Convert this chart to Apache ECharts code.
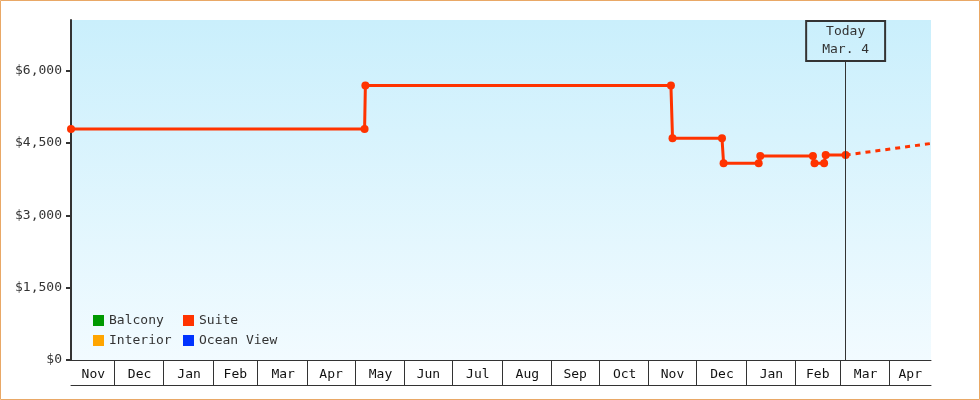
<!DOCTYPE html>
<html>
<head>
<meta charset="utf-8">
<script src="https://cdn.jsdelivr.net/npm/echarts@6/dist/echarts.min.js"></script>
<style>
html,body{margin:0;padding:0;background:#fff;}
#chart{width:980px;height:400px;}
</style>
</head>
<body>
<div id="chart"></div>
<script>
// ---- data ----
const axisStart = '2016-11-04';
const axisEnd = '2018-04-27';
const monthNames = ['Jan','Feb','Mar','Apr','May','Jun','Jul','Aug','Sep','Oct','Nov','Dec'];
const yTicks = [0, 1500, 3000, 4500, 6000];
const yMax = 7050;
const legendCol1 = ['Balcony', 'Interior'];
const legendCol2 = ['Suite', 'Ocean View'];
const suiteDates = ['2016-11-04','2017-05-07','2017-05-07 12:00','2017-11-15','2017-11-16','2017-12-17','2017-12-18','2018-01-09','2018-01-10','2018-02-12','2018-02-13','2018-02-19','2018-02-20','2018-03-04 12:00'];
const suitePrices = [4790, 4790, 5690, 5690, 4600, 4600, 4080, 4080, 4230, 4230, 4080, 4080, 4250, 4250];
const projectionDates = ['2018-03-04 12:00', '2018-04-27'];
const projectionPrices = [4250, 4490];
const todayDate = '2018-03-04 12:00';
const todayLabel = 'Today\nMar. 4';
const todayLineTop = 6200;

const FONT = 'DejaVu Sans Mono';
function ts(s) {
  const [d, t] = s.split(' ');
  const [y, m, dd] = d.split('-').map(Number);
  let hh = 0, mm = 0;
  if (t) { [hh, mm] = t.split(':').map(Number); }
  return new Date(y, m - 1, dd, hh, mm).getTime();
}
const tMin = ts(axisStart), tMax = ts(axisEnd);

// day categories used for the month boxes under the plot
const dayCats = [];
const monthStartIdx = new Set();
{
  let d = new Date(tMin);
  const end = new Date(tMax);
  while (d <= end) {
    if (d.getDate() === 1) monthStartIdx.add(dayCats.length);
    dayCats.push(d.getFullYear() + '-' + (d.getMonth() + 1) + '-' + d.getDate());
    d = new Date(d.getFullYear(), d.getMonth(), d.getDate() + 1);
  }
}
const boundIdx = [0].concat(Array.from(monthStartIdx), [dayCats.length - 1]);
const midIdx = new Map();
for (let i = 0; i < boundIdx.length - 1; i++) {
  const m = Math.round((boundIdx[i] + boundIdx[i + 1]) / 2);
  midIdx.set(m, monthNames[new Date(ts(dayCats[boundIdx[i]])).getMonth()]);
}

const chart = echarts.init(document.getElementById('chart'), null, {renderer: 'canvas'});
const legendBase = {
  orient: 'vertical', itemGap: 7, padding: 0, icon: 'rect', itemWidth: 11, itemHeight: 11,
  textStyle: {fontSize: 13, color: '#333', fontFamily: FONT}
};
const option = {
  animation: false,
  backgroundColor: '#fff',
  textStyle: {fontFamily: FONT},
  graphic: [{
    type: 'rect', silent: true, z: 100,
    shape: {x: 0.5, y: 0.5, width: 979, height: 399},
    style: {fill: null, stroke: '#e9a866', lineWidth: 1}
  }],
  grid: {
    left: 71, top: 20, right: 49, bottom: 40, show: true, borderWidth: 0,
    backgroundColor: {type: 'linear', x: 0, y: 0, x2: 0, y2: 1,
      colorStops: [{offset: 0, color: '#caeffc'}, {offset: 1, color: '#f2fbff'}]}
  },
  legend: [
    Object.assign({data: legendCol1, left: 93, top: 314}, legendBase),
    Object.assign({data: legendCol2, left: 183, top: 314}, legendBase)
  ],
  xAxis: [{
    type: 'time', min: tMin, max: tMax, position: 'bottom', show: false
  }, {
    type: 'category', data: dayCats, boundaryGap: false, position: 'bottom',
    axisLine: {show: true, lineStyle: {color: '#333', width: 1}},
    axisTick: {show: true, interval: (i) => monthStartIdx.has(i), length: 25, inside: false,
      lineStyle: {color: '#333', width: 1}},
    axisLabel: {
      interval: (i) => midIdx.has(i), margin: 8, fontSize: 13, color: '#111', fontFamily: FONT,
      formatter: (v, i) => midIdx.get(i) || ''
    },
    splitLine: {show: false}
  }, {
    type: 'category', data: dayCats, boundaryGap: false, position: 'bottom', offset: 25,
    axisLine: {show: true, lineStyle: {color: '#333', width: 1}},
    axisTick: {show: false}, axisLabel: {show: false}, splitLine: {show: false}
  }],
  yAxis: {
    type: 'value', min: 0, max: yMax,
    axisLine: {show: true, lineStyle: {color: '#333', width: 2}},
    axisTick: {show: true, customValues: yTicks, length: 5, lineStyle: {color: '#333', width: 2}},
    axisLabel: {
      customValues: yTicks, margin: 9, fontSize: 13, color: '#333', fontFamily: FONT,
      formatter: v => '$' + Number(v).toLocaleString('en-US')
    },
    splitLine: {show: false}
  },
  series: [
    {name: 'Balcony', type: 'line', data: [], itemStyle: {color: '#009900'}, lineStyle: {color: '#009900'}},
    {
      name: 'Suite', type: 'line', clip: false, xAxisIndex: 0,
      data: suiteDates.map((d, i) => [ts(d), suitePrices[i]]),
      symbol: 'circle', symbolSize: 8, showAllSymbol: true,
      itemStyle: {color: '#ff3300'}, lineStyle: {color: '#ff3300', width: 3},
      emphasis: {disabled: true}, z: 3,
      markLine: {
        silent: true, symbol: ['none', 'none'], animation: false,
        lineStyle: {color: '#333', width: 1, type: 'solid'},
        emphasis: {disabled: true},
        label: {
          show: true, position: 'end', distance: 0, formatter: todayLabel,
          color: '#333', fontSize: 13, fontFamily: FONT, lineHeight: 18,
          borderColor: '#333', borderWidth: 1, padding: [2, 16, 2, 16],
          backgroundColor: 'rgba(0,0,0,0)'
        },
        data: [[{coord: [ts(todayDate), 0]}, {coord: [ts(todayDate), todayLineTop]}]]
      }
    },
    {name: 'Interior', type: 'line', data: [], itemStyle: {color: '#ffa500'}, lineStyle: {color: '#ffa500'}},
    {name: 'Ocean View', type: 'line', data: [], itemStyle: {color: '#0033ff'}, lineStyle: {color: '#0033ff'}},
    {
      name: 'Suite', type: 'line', clip: false, xAxisIndex: 0,
      data: projectionDates.map((d, i) => [ts(d), projectionPrices[i]]),
      showSymbol: false, symbol: 'none',
      itemStyle: {color: '#ff3300'},
      lineStyle: {color: '#ff3300', width: 3, type: [5, 5], dashOffset: 0},
      emphasis: {disabled: true}, z: 2
    }
  ]
};
chart.setOption(option);
</script>
</body>
</html>
